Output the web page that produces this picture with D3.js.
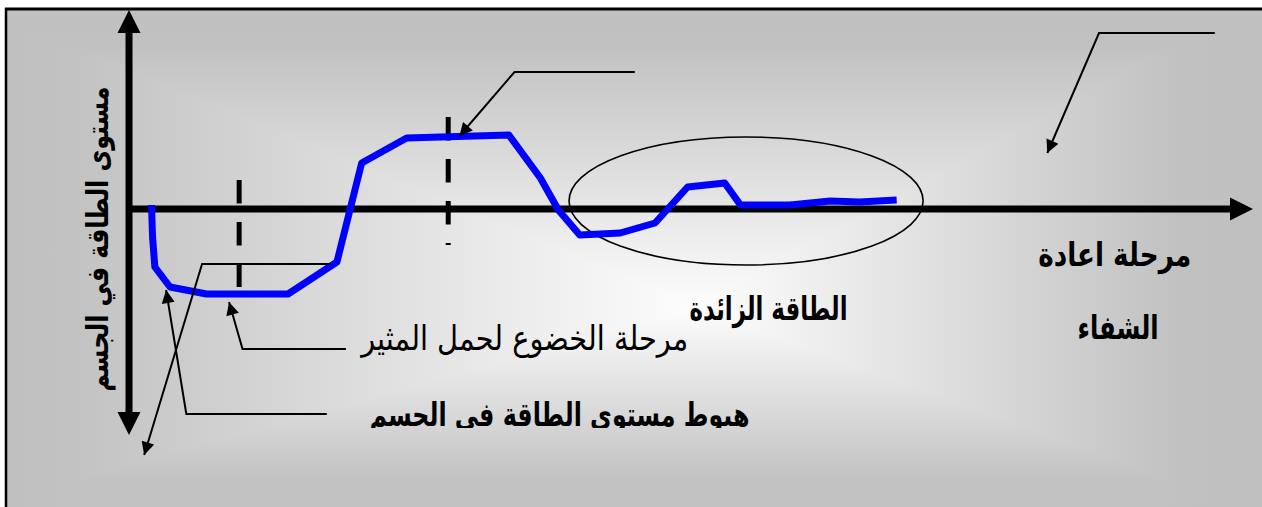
<!DOCTYPE html>
<html>
<head>
<meta charset="utf-8">
<script src="https://cdn.jsdelivr.net/npm/d3@7"></script>
<style>
  html, body { margin: 0; padding: 0; background: #fff; }
  svg { display: block; }
</style>
</head>
<body>
<div id="chart"></div>
<script>
// energy curve: time (arbitrary units) and energy level (relative to baseline)
const timeVals   = [2, 2.1, 2.3, 3.65, 6.9, 14.15, 18.5, 20.7, 24.7, 33.8, 36.6, 38.2, 40.1, 43.7, 46.8, 49.7, 53.0, 54.4, 58.8, 62.4, 65.0, 68.3];
const energyVals = [0.2, -1.45, -2.9, -3.9, -4.25, -4.25, -2.65, 2.3, 3.55, 3.7, 1.55, -0.05, -1.3, -1.2, -0.7, 1.1, 1.3, 0.2, 0.2, 0.4, 0.35, 0.45];

// dashed phase boundaries
const phaseTimes  = [9.8, 28.4];
const phaseTop    = [1.45, 4.6];
const phaseBottom = [-3.9, -1.8];

// texts
const yAxisLabel = "مستوى الطاقة في الجسم";
const labelTexts = ["مرحلة اعادة", "الشفاء", "الطاقة الزائدة", "مرحلة الخضوع لحمل المثير", "هبوط مستوى الطاقة في الجسم"];

const width = 1262, height = 507;

const x = d3.scaleLinear().domain([0, 100]).range([129, 1253]);
const y = d3.scaleLinear().domain([-10, 10]).range([409, 9]);

const svg = d3.select("#chart")
  .append("svg")
  .attr("width", width)
  .attr("height", height)
  .attr("viewBox", [0, 0, width, height]);

const defs = svg.append("defs");

// rectangular "from centre" gradient = darker of a horizontal and a vertical tent
const gH = defs.append("linearGradient").attr("id", "gH").attr("x1", 0).attr("x2", 1).attr("y1", 0).attr("y2", 0);
[[0, "#c0c0c0"], [0.06, "#c3c3c3"], [0.55, "#fdfdfd"], [0.935, "#c1c1c1"], [1, "#c0c0c0"]]
  .forEach(([o, c]) => gH.append("stop").attr("offset", o).attr("stop-color", c));
const gV = defs.append("linearGradient").attr("id", "gV").attr("x1", 0).attr("x2", 0).attr("y1", 0).attr("y2", 1);
[[0, "#c0c0c0"], [0.07, "#c1c1c1"], [0.6, "#fdfdfd"], [0.94, "#c3c3c3"], [1, "#c2c2c2"]]
  .forEach(([o, c]) => gV.append("stop").attr("offset", o).attr("stop-color", c));

defs.append("clipPath").attr("id", "clipLow")
  .append("rect").attr("x", 0).attr("y", 0).attr("width", width).attr("height", 428);

// arrow heads
defs.append("marker")
  .attr("id", "tip")
  .attr("viewBox", "0 0 10 10")
  .attr("refX", 10).attr("refY", 5)
  .attr("markerUnits", "userSpaceOnUse")
  .attr("markerWidth", 17).attr("markerHeight", 13)
  .attr("orient", "auto")
  .append("path").attr("d", "M0,0L10,5L0,10Z").attr("fill", "#000");

defs.append("marker")
  .attr("id", "axisTip")
  .attr("viewBox", "0 0 10 10")
  .attr("refX", 0).attr("refY", 5)
  .attr("markerUnits", "userSpaceOnUse")
  .attr("markerWidth", 23).attr("markerHeight", 25)
  .attr("orient", "auto-start-reverse")
  .append("path").attr("d", "M0,0L10,5L0,10Z").attr("fill", "#000");

// background and frame
const bg = svg.append("g").style("isolation", "isolate");
bg.append("rect").attr("x", 6).attr("y", 9).attr("width", width - 6).attr("height", height - 9).attr("fill", "url(#gH)");
bg.append("rect").attr("x", 6).attr("y", 9).attr("width", width - 6).attr("height", height - 9).attr("fill", "url(#gV)")
  .style("mix-blend-mode", "darken");
svg.append("line").attr("x1", 5).attr("x2", width).attr("y1", 9).attr("y2", 9).attr("stroke", "#000").attr("stroke-width", 3);
svg.append("line").attr("x1", 6).attr("x2", 6).attr("y1", 8).attr("y2", height).attr("stroke", "#000").attr("stroke-width", 2.5);

// axes with arrow heads
const arrowLen = 23;
svg.append("line")
  .attr("x1", x(0)).attr("x2", x(0))
  .attr("y1", y(-11.3) - arrowLen).attr("y2", y(9.95) + arrowLen)
  .attr("stroke", "#000").attr("stroke-width", 7)
  .attr("marker-start", "url(#axisTip)")
  .attr("marker-end", "url(#axisTip)");
svg.append("line")
  .attr("x1", x(0)).attr("x2", x(100) - arrowLen)
  .attr("y1", y(0)).attr("y2", y(0))
  .attr("stroke", "#000").attr("stroke-width", 7)
  .attr("marker-end", "url(#axisTip)");

// dashed phase lines
svg.append("g")
  .selectAll("line")
  .data(phaseTimes)
  .join("line")
  .attr("x1", d => x(d)).attr("x2", d => x(d))
  .attr("y1", (d, i) => y(phaseTop[i]))
  .attr("y2", (d, i) => y(phaseBottom[i]))
  .attr("stroke", "#000")
  .attr("stroke-width", 5)
  .attr("stroke-dasharray", "23.5,18.5");

// ellipse round the surplus energy
svg.append("ellipse")
  .attr("cx", x(54.9)).attr("cy", y(0.4))
  .attr("rx", x(54.9 + 15.75) - x(54.9))
  .attr("ry", y(0.4 - 3.2) - y(0.4))
  .attr("fill", "none").attr("stroke", "#000").attr("stroke-width", 1.6);

// energy curve
const curve = timeVals.map((t, i) => [t, energyVals[i]]);
svg.append("path")
  .datum(curve)
  .attr("fill", "none")
  .attr("stroke", "#0000ff")
  .attr("stroke-width", 7)
  .attr("stroke-linejoin", "round")
  .attr("d", d3.line().x(d => x(d[0])).y(d => y(d[1])));

// callout leaders (start of the shelf -> elbow -> arrow tip)
const callouts = [
  [[45.0, 6.85], [34.3, 6.85], [29.4, 3.65]],
  [[96.6, 8.8], [86.3, 8.8], [81.7, 2.8]],
  [[19.3, -7.0], [10.1, -7.0], [8.9, -4.65]],
  [[17.6, -10.25], [5.1, -10.25], [3.3, -4.05]],
  [[17.9, -2.75], [6.5, -2.75], [1.35, -12.3]]
];
svg.append("g")
  .selectAll("path")
  .data(callouts)
  .join("path")
  .attr("fill", "none")
  .attr("stroke", "#000")
  .attr("stroke-width", 2)
  .attr("marker-end", "url(#tip)")
  .attr("d", d3.line().x(d => x(d[0])).y(d => y(d[1])));

// texts
const font = "'DejaVu Sans', 'Noto Sans', sans-serif";
svg.append("text")
  .attr("transform", `translate(${x(-1.9)},${y(-1.5)}) rotate(-90)`)
  .attr("text-anchor", "middle")
  .attr("direction", "rtl")
  .attr("font-family", font)
  .attr("font-weight", "bold")
  .attr("font-size", 30)
  .attr("textLength", 305)
  .attr("lengthAdjust", "spacingAndGlyphs")
  .text(yAxisLabel);

const labelPos = [
  { t: 87.7, e: -2.85, w: 153, bold: true, size: 33 },
  { t: 88.0, e: -6.5, w: 81, bold: true, size: 33 },
  { t: 56.9, e: -5.55, w: 158, bold: true, size: 33 },
  { t: 35.2, e: -7.05, w: 327, bold: false, size: 34 },
  { t: 38.3, e: -10.85, w: 380, bold: true, size: 33, clip: true }
];
svg.append("g")
  .selectAll("text")
  .data(labelTexts)
  .join("text")
  .attr("x", (d, i) => x(labelPos[i].t))
  .attr("y", (d, i) => y(labelPos[i].e))
  .attr("text-anchor", "middle")
  .attr("direction", "rtl")
  .attr("font-family", font)
  .attr("font-weight", (d, i) => labelPos[i].bold ? "bold" : "normal")
  .attr("font-size", (d, i) => labelPos[i].size)
  .attr("textLength", (d, i) => labelPos[i].w)
  .attr("lengthAdjust", "spacingAndGlyphs")
  .attr("clip-path", (d, i) => labelPos[i].clip ? "url(#clipLow)" : null)
  .text(d => d);
</script>
</body>
</html>
